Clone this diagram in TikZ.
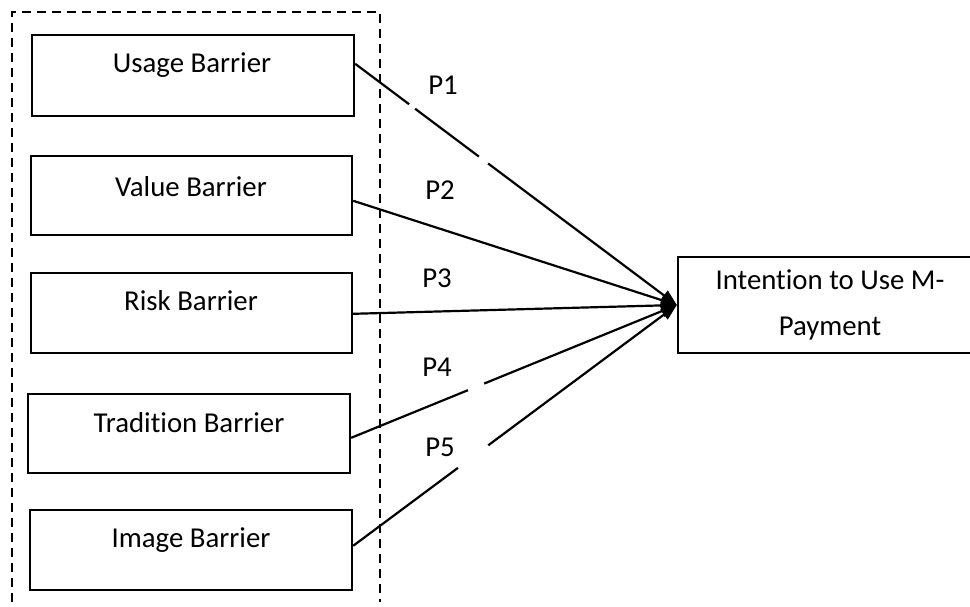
\documentclass[tikz,border=0pt]{standalone}
\usepackage{fontspec}
\setmainfont[Ligatures=NoCommon]{Carlito}
\usetikzlibrary{arrows.meta,calc}
\begin{document}
\begin{tikzpicture}[x=1pt,y=-1pt,
  box/.style={draw=black,line width=2.4pt,minimum width=322pt,minimum height=80pt,inner sep=0pt},
  lbl/.style={font=\fontsize{28.8}{46}\selectfont,inner sep=0pt,anchor=center},
  conn/.style={line width=2.2pt,-{Triangle[length=16pt,width=12pt]}},
  gap/.style={draw=white,line width=5pt},
  grp/.style={line width=2pt,dash pattern=on 9pt off 6pt}]
\useasboundingbox (0,0) rectangle (970,607);
\clip (0,0) rectangle (970,607);
\fill[white] (0,0) rectangle (970,607);
% group frame
\draw[grp] (12,602) -- (12,12) -- (380,12) -- (380,602);
% boxes
\node[box,minimum height=81pt] (usage) at (193,75.5) {};
\node[box,minimum height=79pt,minimum width=321pt] (value) at (191.5,195.5) {};
\node[box,minimum width=321pt] (risk) at (191.5,313) {};
\node[box,minimum height=79pt] (trad) at (189,433.5) {};
\node[box] (image) at (191,550) {};
\node[draw=black,line width=2.4pt,minimum width=304pt,minimum height=96pt,inner sep=0pt] (intent) at (830,305) {};
% box texts
\node[lbl] (tusage) at (192,65) {Usage Barrier};
\node[lbl] (tvalue) at (191,187) {Value Barrier};
\node[lbl] (trisk) at (191,301) {Risk Barrier};
\node[lbl] (ttrad) at (189,423) {Tradition Barrier};
\node[lbl] (timage) at (191,540) {Image Barrier};
\node[lbl,align=center] (tintent) at (830,305) {Intention to Use M-\\Payment};
% connectors
\coordinate (s1) at ($(usage.north east)+(0,30)$);
\coordinate (s2) at ($(value.north east)+(0,46)$);
\coordinate (s3) at ($(risk.north east)+(0,42)$);
\coordinate (s4) at ($(trad.north east)+(0,45)$);
\coordinate (s5) at ($(image.north east)+(0,37)$);
\draw[conn] (s1) -- (intent.west);
\draw[conn] (s2) -- (intent.west);
\draw[conn] (s3) -- (intent.west);
\draw[conn] (s4) -- (intent.west);
\draw[conn] (s5) -- (intent.west);
% gaps in the lines
\draw[gap] ($(s1)!0.168!(intent.west)$) -- ($(s1)!0.186!(intent.west)$);
\draw[gap] ($(s1)!0.385!(intent.west)$) -- ($(s1)!0.413!(intent.west)$);
\draw[gap] ($(s4)!0.359!(intent.west)$) -- ($(s4)!0.408!(intent.west)$);
\draw[gap] ($(s5)!0.324!(intent.west)$) -- ($(s5)!0.417!(intent.west)$);
% labels
\node[lbl] (p1) at (443,85) {P1};
\node[lbl] (p2) at (440,190) {P2};
\node[lbl] (p3) at (437,278) {P3};
\node[lbl] (p4) at (437,367) {P4};
\node[lbl] (p5) at (440,447) {P5};
\end{tikzpicture}
\end{document}
